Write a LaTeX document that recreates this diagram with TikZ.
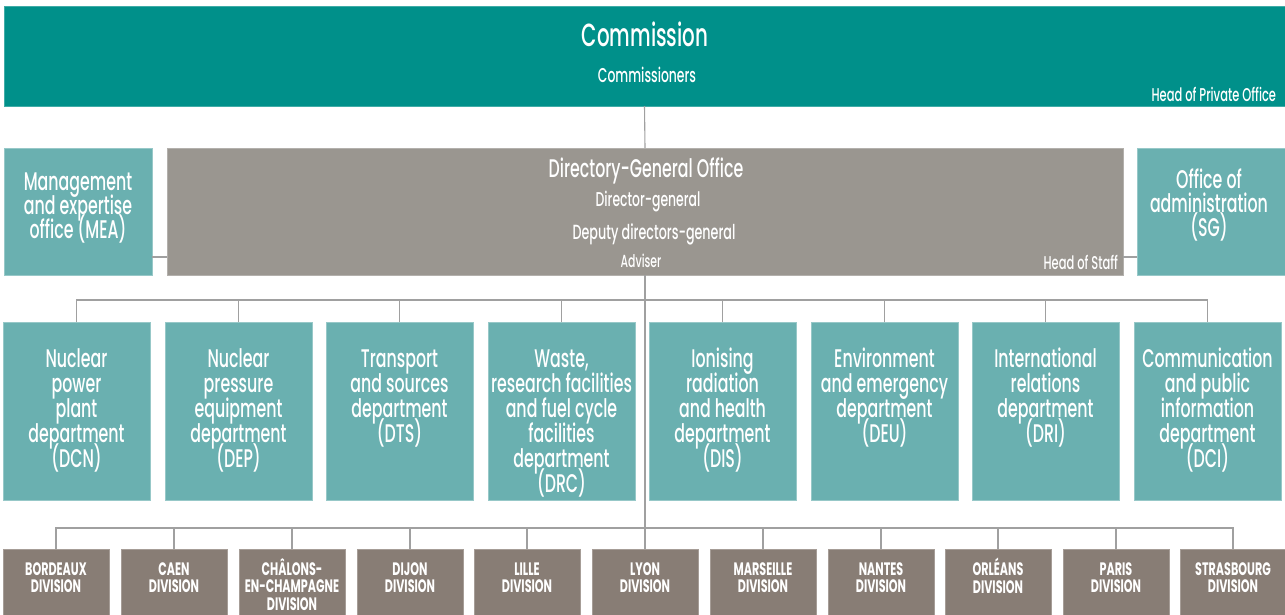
\documentclass[tikz,border=0pt]{standalone}
\usepackage{fontspec}
\setmainfont[FakeStretch=0.62, UprightFont={* Medium}, BoldFont={* Bold}]{Poppins}
\definecolor{commteal}{HTML}{00908A}
\definecolor{deptteal}{HTML}{6AB0B0}
\definecolor{dggray}{HTML}{9A9690}
\definecolor{divbrown}{HTML}{887D75}
\definecolor{linegray}{HTML}{A0A0A0}
\newcommand{\tightlines}{\lineskiplimit=-30pt\lineskip=0pt}
\tikzset{
  every node/.style={inner sep=0pt, outer sep=0pt, text=white, align=center},
  conn/.style={draw=linegray, line width=1.1pt},
  commbox/.style={fill=commteal, draw=commteal!75!white, line width=0.8pt, anchor=north west, minimum width=1281pt, minimum height=100pt},
  dgbox/.style={fill=dggray, draw=dggray!75!white, line width=0.8pt, anchor=north west, minimum width=956pt, minimum height=127pt},
  officebox/.style={fill=deptteal, draw=deptteal!70!white, line width=0.8pt, anchor=north west, minimum width=148pt, minimum height=127pt},
  deptbox/.style={fill=deptteal, draw=deptteal!70!white, line width=0.8pt, anchor=north west, minimum width=147pt, minimum height=178pt,
    label={[anchor=north, yshift=-23pt, font=\fontsize{25.5}{25}\selectfont\tightlines, text=white, align=center]north:{\rule{0pt}{22pt}#1}}},
  divbox/.style={fill=divbrown, draw=divbrown!75!white, line width=0.8pt, anchor=north west, minimum width=106pt, minimum height=90pt,
    label={[anchor=north, yshift=-9pt, font=\bfseries\fontsize{18}{17.5}\selectfont\tightlines, text=white, align=center]north:{\rule{0pt}{17pt}#1}}},
  officetext/.style={font=\fontsize{25.5}{24}\selectfont\tightlines, anchor=north},
}
\begin{document}
\begin{tikzpicture}[x=1pt,y=-1pt]
\clip (0,0) rectangle (1285,614);
\useasboundingbox (0,0) rectangle (1285,614);

% Commission
\node[commbox] (comm) at (4,6) {};
\node[font=\fontsize{32}{34}\selectfont] (commtitle) at (645,34) {Commission};
\node[font=\fontsize{20}{22}\selectfont] (commers) at (647,75) {Commissioners};
\node[font=\fontsize{18.5}{20}\selectfont, anchor=base east] (hpo) at (1276,101) {Head of Private Office};

% Directory-General Office
\node[dgbox] (dg) at (167,148) {};
\node[font=\fontsize{25.5}{26}\selectfont] (dgtitle) at (646,171) {Directory-General Office};
\node[font=\fontsize{20}{22}\selectfont] (dgdir) at (648,202) {Director-general};
\node[font=\fontsize{20.5}{22}\selectfont] (dgdep) at (654,234) {Deputy directors-general};
\node[font=\fontsize{17.5}{18}\selectfont] (dgadv) at (641,261) {Adviser};
\node[font=\fontsize{18.5}{20}\selectfont, anchor=base east] (dghs) at (1118,269) {Head of Staff};

% Offices
\node[officebox] (mea) at (4,148) {};
\node[officetext] (meatext) at (78,168) {\rule{0pt}{22pt}Management\\and expertise\\office (MEA)};
\node[officebox] (sg) at (1137,148) {};
\node[officetext] (sgtext) at (1209,166) {\rule{0pt}{22pt}Office of\\administration\\(SG)};

% Departments
\node[deptbox={Nuclear\\power\\plant\\department\\(DCN)}] (d1) at (3,322) {};
\node[deptbox={Nuclear\\pressure\\equipment\\department\\(DEP)}] (d2) at (165,322) {};
\node[deptbox={Transport\\and sources\\department\\(DTS)}] (d3) at (326,322) {};
\node[deptbox={Waste,\\research facilities\\and fuel cycle\\facilities\\department\\(DRC)}] (d4) at (488,322) {};
\node[deptbox={Ionising\\radiation\\and health\\department\\(DIS)}] (d5) at (649,322) {};
\node[deptbox={Environment\\and emergency\\department\\(DEU)}] (d6) at (811,322) {};
\node[deptbox={International\\relations\\department\\(DRI)}] (d7) at (972,322) {};
\node[deptbox={Communication\\and public\\information\\department\\(DCI)}] (d8) at (1134,322) {};

% Divisions
\node[divbox={BORDEAUX\\DIVISION}] (v1) at (3,549) {};
\node[divbox={CAEN\\DIVISION}] (v2) at (121,549) {};
\node[divbox={CHÂLONS-\\EN-CHAMPAGNE\\DIVISION}] (v3) at (239,549) {};
\node[divbox={DIJON\\DIVISION}] (v4) at (357,549) {};
\node[divbox={LILLE\\DIVISION}] (v5) at (474,549) {};
\node[divbox={LYON\\DIVISION}] (v6) at (592,549) {};
\node[divbox={MARSEILLE\\DIVISION}] (v7) at (710,549) {};
\node[divbox={NANTES\\DIVISION}] (v8) at (828,549) {};
\node[divbox={ORLÉANS\\DIVISION}] (v9) at (945,549) {};
\node[divbox={PARIS\\DIVISION}] (v10) at (1063,549) {};
\node[divbox={STRASBOURG\\DIVISION}] (v11) at (1180,549) {};

% Connectors
\coordinate (dbus) at (645,300);
\coordinate (vbus) at (645,528);
\draw[conn] (comm.south) -- (dg.north);
\draw[conn] (dg.south) -- (v6.north);
\draw[conn] ([yshift=-45.5pt]mea.east) -- ([yshift=-45.5pt]dg.west);
\draw[conn] ([yshift=-45.5pt]dg.east) -- ([yshift=-45.5pt]sg.west);
\draw[conn] (d1.north) |- (dbus) -| (d8.north);
\foreach \d in {d2,d3,d4,d5,d6,d7} { \draw[conn] (\d.north) -- (\d.north |- dbus); }
\draw[conn] (v1.north) |- (vbus) -| (v11.north);
\foreach \v in {v2,v3,v4,v5,v7,v8,v9,v10} { \draw[conn] (\v.north) -- (\v.north |- vbus); }
\end{tikzpicture}
\end{document}
